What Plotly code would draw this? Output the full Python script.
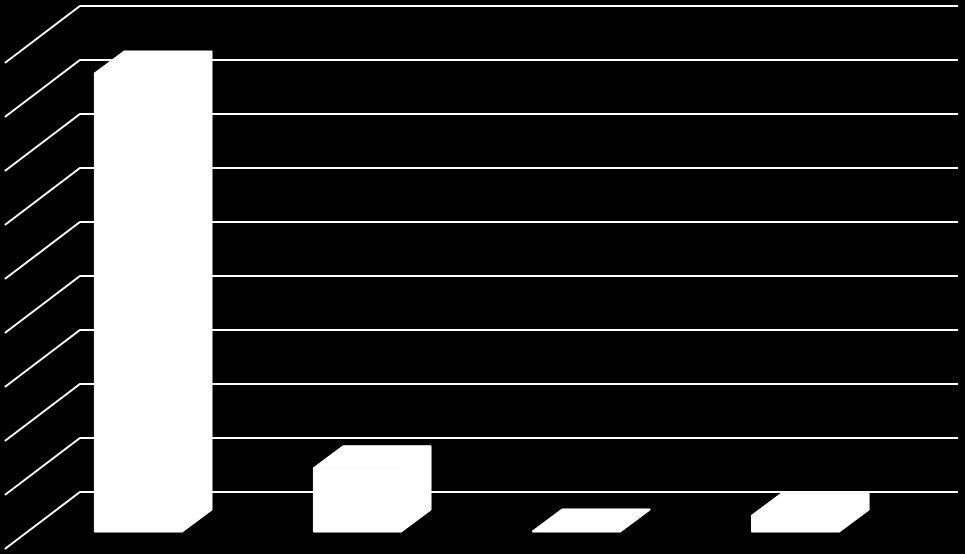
import plotly.graph_objects as go

# Data (gridline step 10, top gridline 90)
categories = [0, 1, 2, 3]
values = [85.0, 11.9, 0.2, 3.1]
gridlines = [0, 10, 20, 30, 40, 50, 60, 70, 80, 90]

# 3D look: depth offset of the bars and of the back wall
bar_width = 0.402
depth_x = 0.135     # category units
depth_y = 4.07      # value units
wall_y = 7.41       # back wall raised above the bar floor
wall_x0, wall_x1 = -0.267, 3.742
side_x = -0.610     # front end of the side wall diagonals
side_drop = 10.56

fig = go.Figure()

# back wall gridlines + side wall diagonals
for g in gridlines:
    yb = g + wall_y
    fig.add_trace(
        go.Scatter(
            x=[side_x, wall_x0, wall_x1],
            y=[yb - side_drop, yb, yb],
            mode="lines",
            line={"color": "white", "width": 2},
            hoverinfo="skip",
        )
    )

# top and side faces (drawn first, the front face covers the seam)
for c, v in zip(categories, values):
    x0 = c - bar_width / 2
    x1 = c + bar_width / 2
    fig.add_trace(
        go.Scatter(
            x=[x0, x0 + depth_x, x1 + depth_x, x1 + depth_x, x1, x1, x0],
            y=[v, v + depth_y, v + depth_y, depth_y, 0, v, v],
            mode="lines",
            fill="toself",
            fillcolor="white",
            line={"color": "white", "width": 1},
            hoverinfo="skip",
        )
    )

# front faces
fig.add_trace(
    go.Bar(
        x=categories,
        y=values,
        width=bar_width,
        marker={"color": "white", "line": {"color": "white", "width": 1}},
        hovertemplate="%{y}<extra></extra>",
    )
)

fig.update_layout(
    width=965,
    height=554,
    margin={"l": 0, "r": 0, "t": 0, "b": 0},
    paper_bgcolor="black",
    plot_bgcolor="black",
    showlegend=False,
    xaxis={"range": [-0.632, 3.774], "visible": False},
    yaxis={"range": [-4.07, 98.52], "visible": False},
)

# page has a default 8px body margin, drop it so the chart fills the window
fig.write_html(
    "out.html",
    config={"displayModeBar": False},
    post_script="document.body.style.margin='0';"
    "document.body.style.background='black';",
)
